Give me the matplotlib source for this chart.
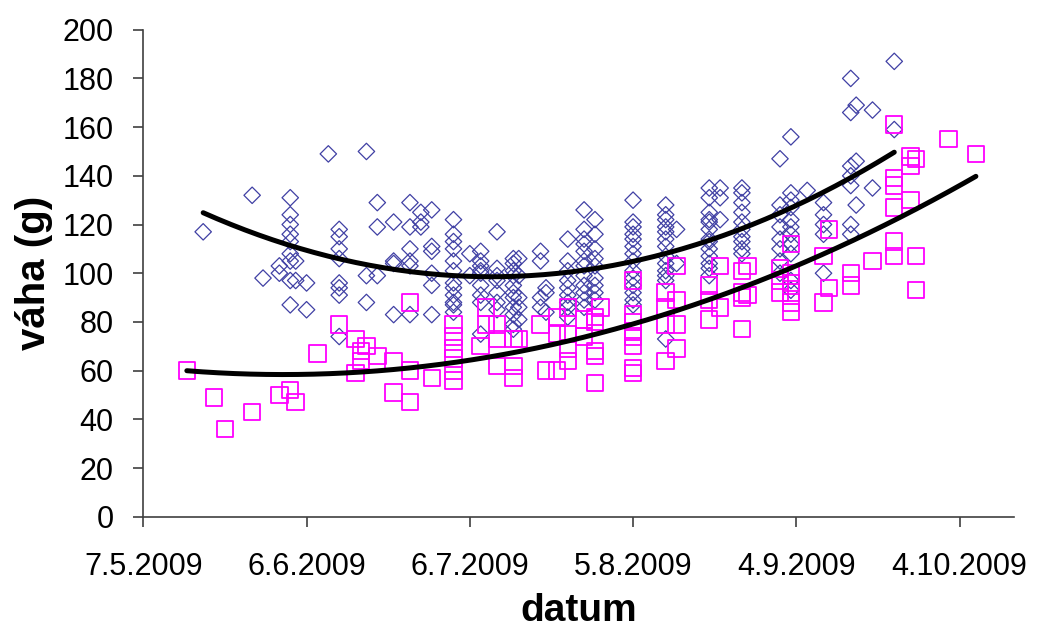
import matplotlib
matplotlib.use('Agg')
import matplotlib.pyplot as plt
import matplotlib.dates as mdates
import numpy as np
import datetime as dt

# sampling days counted from 7.5.2009, weights (g) measured on that day
start = dt.date(2009, 5, 7)

blue_days = [11, 20, 22, 25, 27, 28, 30, 34, 36, 41, 43, 46, 49, 51, 53, 57, 60, 62, 65,
             68, 69, 73, 74, 78, 81, 83, 90, 96, 98, 104, 106, 110, 117, 119, 122, 125,
             130, 131, 134, 138]
blue_weights = [
    [117], [132], [98], [103, 100],
    [131, 124, 120, 116, 113, 108, 105, 97, 87],
    [105, 97], [96, 85], [149],
    [118, 115, 110, 106, 96, 94, 91, 74],
    [150, 99, 88], [129, 119, 99], [121, 105, 104, 83],
    [129, 119, 110, 105, 103, 83], [125, 121, 119],
    [126, 111, 109, 100, 95, 83],
    [122, 116, 113, 110, 105, 101, 96, 94, 91, 88, 87, 84],
    [108, 99],
    [109, 105, 103, 101, 100, 95, 91, 88, 75],
    [117, 102, 99, 97, 92, 88, 85],
    [106, 104, 101, 99, 95, 92, 90, 86, 83, 79, 77],
    [106, 99, 90, 86, 81],
    [109, 105, 90, 86], [94, 92, 84],
    [114, 105, 101, 97, 94, 91, 88, 86, 82],
    [126, 118, 114, 112, 109, 105, 103, 99, 95, 92, 89, 86],
    [122, 116, 110, 106, 103, 98, 95, 92, 89],
    [130, 121, 119, 116, 114, 111, 108, 105, 101, 98, 95, 92, 89, 87],
    [128, 124, 122, 119, 117, 114, 111, 107, 104, 101, 99, 97, 73],
    [118, 104],
    [135, 131, 125, 122, 121, 118, 114, 113, 110, 107, 104, 102, 99],
    [135, 131, 122],
    [135, 133, 129, 125, 121, 118, 115, 113, 110, 108],
    [147, 128, 124, 119, 114, 110, 105, 100],
    [156, 133, 130, 127, 122, 119, 116, 112, 108, 97, 93],
    [134], [129, 124, 120, 116, 100],
    [180, 166, 144, 140, 136, 120, 116],
    [169, 146, 128], [167, 135], [187, 159],
]

pink_days = [8, 13, 15, 20, 25, 27, 28, 32, 36, 39, 40, 41, 43, 46, 49, 53, 57, 62, 63,
             65, 68, 69, 73, 74, 76, 78, 81, 83, 84, 90, 96, 98, 104, 106, 110, 111, 117,
             119, 125, 126, 130, 134, 138, 141, 142, 148, 153]
pink_weights = [
    [60], [49], [36], [43], [50], [52], [47], [67], [79],
    [73, 59], [68, 64], [70], [66], [64, 51], [88, 60, 47], [57],
    [79, 74, 69, 65, 60, 56],
    [70], [86, 79], [79, 73, 62], [73, 62, 57], [73], [79], [60],
    [82, 75, 60], [86, 75, 69, 64], [81, 74], [82, 80, 68, 66, 55], [86],
    [97, 83, 80, 76, 74, 70, 61, 59],
    [92, 86, 79, 64], [103, 89, 79, 69], [95, 89, 81], [103, 86],
    [101, 92, 90, 77], [103, 91], [102, 97, 92],
    [112, 100, 96, 92, 88, 84],
    [107, 88], [118, 94], [100, 95], [105],
    [161, 139, 136, 127, 113, 107],
    [148, 144, 130], [147, 107, 93], [155], [149],
]

tick_days = [0, 30, 60, 90, 120, 150]
x_end_day = 160


def flatten(days, weights):
    d = np.array([day for day, ws in zip(days, weights) for _ in ws], dtype=float)
    w = np.array([v for ws in weights for v in ws], dtype=float)
    return d, w


def to_num(day_offsets):
    base = mdates.date2num(start)
    return base + np.asarray(day_offsets, dtype=float)


plt.rcParams['font.family'] = ['Liberation Sans', 'DejaVu Sans']

fig = plt.figure(figsize=(10.37, 6.28), dpi=100)
ax = fig.add_axes([0.1382, 0.1772, 0.8396, 0.7755])

bd, bw = flatten(blue_days, blue_weights)
pd_, pw = flatten(pink_days, pink_weights)

ax.scatter(to_num(bd), bw, marker='D', s=70, facecolors='none',
           edgecolors='#4040a4', linewidths=0.9, zorder=3)
ax.scatter(to_num(pd_), pw, marker='s', s=140, facecolors='none',
           edgecolors='#ff00ff', linewidths=1.3, zorder=3)

# 2nd order polynomial trendlines, like Excel
for d, w in [(bd, bw), (pd_, pw)]:
    coef = np.polyfit(d, w, 2)
    xs = np.linspace(d.min(), d.max(), 200)
    ax.plot(to_num(xs), np.polyval(coef, xs), color='black', lw=3.6, zorder=4,
            solid_capstyle='round')

ax.set_xlim(to_num([0])[0], to_num([x_end_day])[0])
ax.set_ylim(0, 200)
ax.set_yticks(np.arange(0, 201, 20))
ax.set_xticks(to_num(tick_days))
ax.set_xticklabels([f"{d.day}.{d.month}.{d.year}" for d in
                    (start + dt.timedelta(days=t) for t in tick_days)])

for s in ['top', 'right']:
    ax.spines[s].set_visible(False)
for s in ['left', 'bottom']:
    ax.spines[s].set_color('#404040')
    ax.spines[s].set_linewidth(1.2)

ax.tick_params(axis='y', direction='out', length=7.2, width=1.2, color='#404040',
               labelsize=22, pad=14)
ax.tick_params(axis='x', direction='out', length=7.2, width=1.2, color='#404040',
               labelsize=22, pad=18)

ax.set_ylabel('váha (g)', fontsize=29, fontweight='bold', labelpad=7)
ax.set_xlabel('datum', fontsize=28, fontweight='bold', labelpad=8)

fig.savefig('out.png', dpi=100)
